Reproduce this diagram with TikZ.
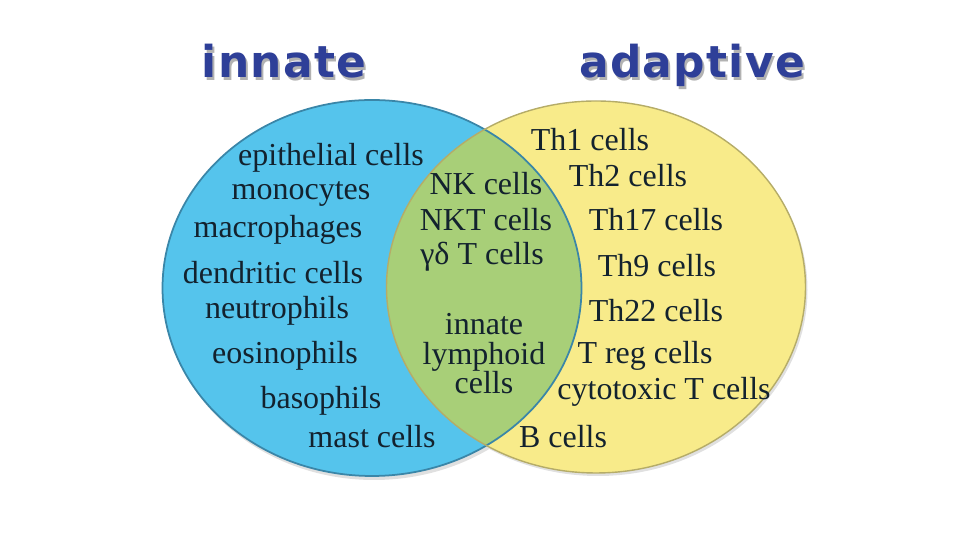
\documentclass[tikz,border=0pt]{standalone}
\usepackage{fontspec}
\setmainfont{Liberation Serif}
\newfontfamily\headfont[LetterSpace=3]{DejaVu Sans}
\usepackage{xcolor}
\usepackage{tikz}
\usetikzlibrary{positioning}
\definecolor{vBlue}{HTML}{55C4EC}
\definecolor{vBlueEdge}{HTML}{3A86A8}
\definecolor{vYellow}{HTML}{F8EB8A}
\definecolor{vYellowEdge}{HTML}{B5AC68}
\definecolor{vGreen}{HTML}{A8CF78}
\definecolor{vInk}{HTML}{13222E}
\definecolor{vHead}{HTML}{2E3F98}

\begin{document}
\begin{tikzpicture}[x=0.1mm, y=-0.1mm,
    cell/.style={font=\fontsize{9.1}{8.4}\selectfont, text=vInk, inner sep=0pt},
    heading/.style={font=\headfont\bfseries\fontsize{12.5}{14}\selectfont, text=vHead, inner sep=0pt, anchor=base},
    headshadow/.style={font=\headfont\bfseries\fontsize{12.5}{14}\selectfont, text=black!30, inner sep=0pt, anchor=base}]
  \useasboundingbox (0,0) rectangle (960,540);
  % circles
  \fill[black!12] (374,292) ellipse [x radius=20.95mm, y radius=18.8mm];
  \fill[black!12] (598,290) ellipse [x radius=20.95mm, y radius=18.6mm];
  \fill[vBlue] (372,288) ellipse [x radius=20.95mm, y radius=18.8mm];
  \fill[vYellow] (596,287) ellipse [x radius=20.95mm, y radius=18.6mm];
  \begin{scope}
    \clip (372,288) ellipse [x radius=20.95mm, y radius=18.8mm];
    \fill[vGreen] (596,287) ellipse [x radius=20.95mm, y radius=18.6mm];
  \end{scope}
  \draw[vBlueEdge, line width=0.5pt] (372,288) ellipse [x radius=20.95mm, y radius=18.8mm];
  \draw[vYellowEdge, line width=0.4pt] (596,287) ellipse [x radius=20.95mm, y radius=18.6mm];
  % titles
  \node[headshadow] (innateshadow) at (286,81) {innate};
  \node[heading] (innate) at (284,78) {innate};
  \node[headshadow] (adaptiveshadow) at (694,81) {adaptive};
  \node[heading] (adaptive) at (692,78) {adaptive};
  % innate only
  \node[cell] (epithelial) at (331,158) {epithelial cells};
  \node[cell] (monocytes) at (301,194) {monocytes};
  \node[cell] (macrophages) at (278,230) {macrophages};
  \node[cell] (dendritic) at (273,273) {dendritic cells};
  \node[cell] (neutrophils) at (277,311) {neutrophils};
  \node[cell] (eosinophils) at (285,356) {eosinophils};
  \node[cell] (basophils) at (321,401) {basophils};
  \node[cell] (mast) at (372,437) {mast cells};
  % both
  \node[cell] (nk) at (486,184) {NK cells};
  \node[cell] (nkt) at (486,220) {NKT cells};
  \node[cell] (gammadelta) at (482,257) {γδ T cells};
  \node[cell, align=center] (ilc) at (484,354) {innate\\lymphoid\\cells};
  % adaptive only
  \node[cell] (th1) at (590,140) {Th1 cells};
  \node[cell] (th2) at (628,176) {Th2 cells};
  \node[cell] (th17) at (656,220) {Th17 cells};
  \node[cell] (th9) at (657,266) {Th9 cells};
  \node[cell] (th22) at (656,311) {Th22 cells};
  \node[cell] (treg) at (645,356) {T reg cells};
  \node[cell] (cytotoxic) at (664,392) {cytotoxic T cells};
  \node[cell] (bcells) at (563,437) {B cells};
\end{tikzpicture}
\end{document}
